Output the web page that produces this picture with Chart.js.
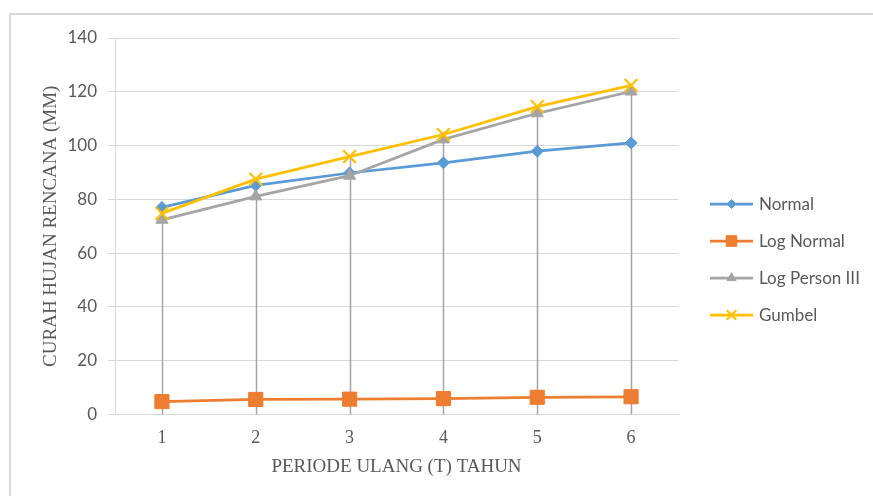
<!DOCTYPE html>
<html>
<head>
<meta charset="utf-8">
<script src="https://cdn.jsdelivr.net/npm/chart.js@4/dist/chart.umd.min.js"></script>
<style>
  html, body { margin: 0; padding: 0; background: #ffffff; }
  #wrap { position: relative; width: 873px; height: 496px; }
</style>
</head>
<body>
<div id="wrap"><canvas id="chart" width="873" height="496"></canvas></div>
<script>
// Return periods (years)
const periods = ['1', '2', '3', '4', '5', '6'];

// Design rainfall (mm) per distribution method
const normal      = [77.0, 85.2, 89.8, 93.6, 97.9, 101.0];
const logNormal   = [4.8, 5.6, 5.7, 5.9, 6.4, 6.6];
const logPerson3  = [72.4, 81.1, 88.8, 102.3, 112.0, 120.1];
const gumbel      = [74.8, 87.5, 95.9, 104.1, 114.5, 122.4];

const seriesNames = ['Normal', 'Log Normal', 'Log Person III', 'Gumbel'];

// Y axis range
const yMin = 0, yMax = 140, yStep = 20;

const textGrey = '#595959';
const gridGrey = '#d9d9d9';

// Chart frame around the whole figure
const framePlugin = {
  id: 'frame',
  beforeDraw(chart) {
    const ctx = chart.ctx;
    ctx.save();
    ctx.fillStyle = '#ffffff';
    ctx.fillRect(0, 0, chart.width, chart.height);
    ctx.strokeStyle = gridGrey;
    ctx.lineWidth = 2;
    ctx.strokeRect(10, 14, chart.width + 20, chart.height + 20);
    ctx.restore();
  }
};

// Drop lines: from the highest series value at each category down to the axis
const dropLinePlugin = {
  id: 'dropLines',
  beforeDatasetsDraw(chart) {
    const ctx = chart.ctx;
    const x = chart.scales.x, y = chart.scales.y;
    ctx.save();
    ctx.strokeStyle = '#a5a5a5';
    ctx.lineWidth = 1.5;
    chart.data.labels.forEach((lab, i) => {
      const top = Math.max(...chart.data.datasets.map(d => d.data[i]));
      const px = Math.round(x.getPixelForValue(i)) + 0.5;
      ctx.beginPath();
      ctx.moveTo(px, y.getPixelForValue(top));
      ctx.lineTo(px, y.getPixelForValue(0));
      ctx.stroke();
    });
    ctx.restore();
  }
};

// Legend on the right: line segment with marker, then the series name
const sideLegendPlugin = {
  id: 'sideLegend',
  afterDraw(chart) {
    const ctx = chart.ctx;
    const x0 = 710, x1 = 753, tx = 759;
    const yStart = 204, gap = 37;
    ctx.save();
    chart.data.datasets.slice().sort((a, b) => a.legendIndex - b.legendIndex).forEach((ds, k) => {
      const yy = yStart + k * gap;
      ctx.strokeStyle = ds.borderColor;
      ctx.fillStyle = ds.borderColor;
      ctx.lineWidth = 2.75;
      ctx.beginPath();
      ctx.moveTo(x0, yy);
      ctx.lineTo(x1, yy);
      ctx.stroke();
      ctx.lineWidth = ds.pointBorderWidth;
      Chart.helpers.drawPoint(ctx, {
        pointStyle: ds.pointStyle,
        radius: ds.pointRadius * 0.75,
        rotation: 0,
        borderWidth: ds.pointBorderWidth
      }, (x0 + x1) / 2, yy);
      ctx.fillStyle = textGrey;
      ctx.font = '17px Lato, "Open Sans", sans-serif';
      ctx.textAlign = 'left';
      ctx.textBaseline = 'middle';
      ctx.fillText(ds.label, tx, yy + 1);
    });
    ctx.restore();
  }
};

function series(label, data, color, style, radius, idx, order) {
  return {
    label, data,
    borderColor: color,
    backgroundColor: color,
    pointBackgroundColor: color,
    pointBorderColor: color,
    pointStyle: style,
    pointRadius: radius,
    pointHoverRadius: radius,
    pointBorderWidth: style === 'crossRot' ? 2.25 : 1,
    borderWidth: 2.75,
    tension: 0,
    fill: false,
    legendIndex: idx,
    order
  };
}

new Chart(document.getElementById('chart'), {
  type: 'line',
  data: {
    labels: periods,
    datasets: [
      series(seriesNames[0], normal, '#5b9bd5', 'rectRot', 6, 0, 3),
      series(seriesNames[1], logNormal, '#ed7d31', 'rect', 10, 1, 2),
      series(seriesNames[2], logPerson3, '#a5a5a5', 'triangle', 7, 2, 1),
      series(seriesNames[3], gumbel, '#ffc000', 'crossRot', 9, 3, 0)
    ]
  },
  options: {
    responsive: false,
    animation: false,
    devicePixelRatio: 1,
    layout: { padding: { top: 38, right: 195, left: 0, bottom: 0 } },
    plugins: {
      legend: { display: false },
      tooltip: { enabled: false }
    },
    scales: {
      x: {
        offset: true,
        grid: { display: false, drawTicks: false },
        border: { display: true, color: gridGrey, width: 1 },
        ticks: {
          color: textGrey,
          padding: 13,
          font: { family: '"Liberation Serif", "Times New Roman", serif', size: 18 }
        },
        title: {
          display: true,
          text: 'PERIODE ULANG (T) TAHUN',
          color: textGrey,
          padding: { top: 0, bottom: 18 },
          font: { family: '"Liberation Serif", "Times New Roman", serif', size: 19 }
        },
        afterFit(scale) { scale.height = 81.5; }
      },
      y: {
        min: yMin,
        max: yMax,
        grid: { color: gridGrey, lineWidth: 1, drawTicks: true, tickLength: 7 },
        border: { display: true, color: gridGrey, width: 1 },
        ticks: {
          stepSize: yStep,
          color: textGrey,
          padding: 11,
          font: { family: 'Lato, "Open Sans", sans-serif', size: 17 }
        },
        title: {
          display: true,
          text: 'CURAH HUJAN RENCANA (MM)',
          color: textGrey,
          padding: { top: 40, bottom: 0 },
          font: { family: '"Liberation Serif", "Times New Roman", serif', size: 19 }
        },
        afterFit(scale) { scale.width = 115; }
      }
    }
  },
  plugins: [framePlugin, dropLinePlugin, sideLegendPlugin]
});
</script>
</body>
</html>
